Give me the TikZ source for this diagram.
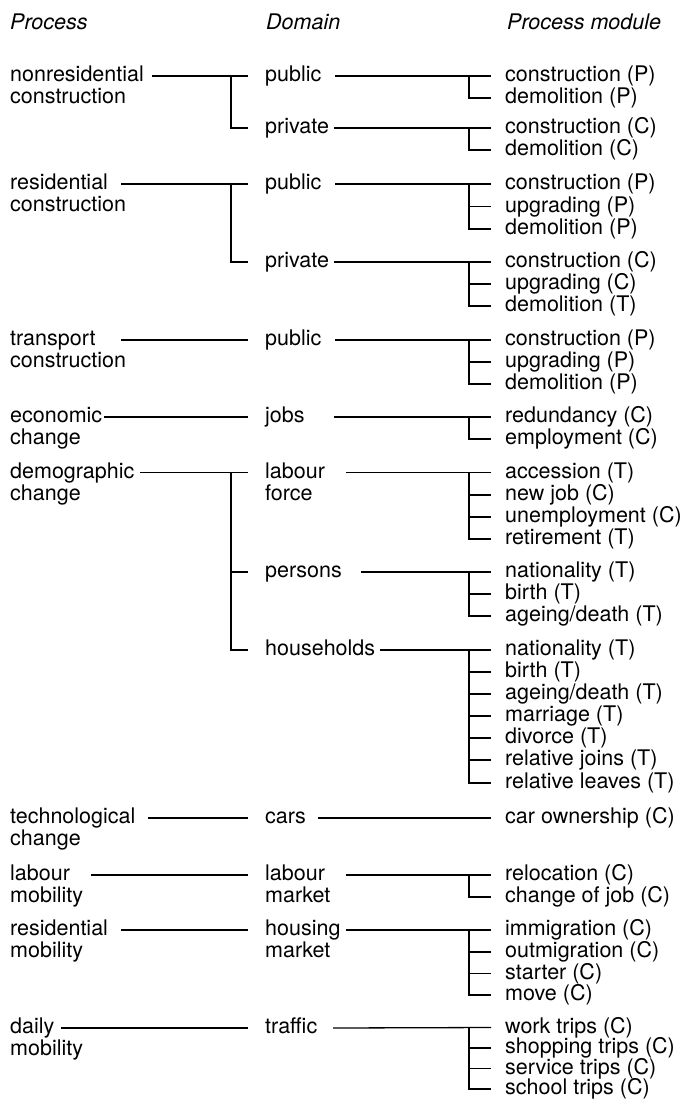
\documentclass[tikz,border=0pt]{standalone}
\usepackage{fontspec}
\setmainfont{TeX Gyre Heros}
\begin{document}
\begin{tikzpicture}[x=1bp,y=-1bp,
  lbl/.style={font=\fontsize{21.5bp}{21.7bp}\selectfont, inner sep=0pt, anchor=west, text height=15.5bp, text depth=4.5bp},
  hdr/.style={lbl, font=\fontsize{21.5bp}{21.7bp}\selectfont\itshape},
  conn/.style={line width=1.3bp}]
\useasboundingbox (0,0) rectangle (680,1106);
% headers
\node[hdr] (h1) at (10,24) {Process};
\node[hdr] (h2) at (266,24) {Domain};
\node[hdr] (h3) at (507,24) {Process module};
% processes
\node[lbl] (p1) at (10,76) {nonresidential};
\node[lbl] (p1b) at (10,98) {construction};
\node[lbl] (p2) at (10,184) {residential};
\node[lbl] (p2b) at (10,206) {construction};
\node[lbl] (p3) at (10,340) {transport};
\node[lbl] (p3b) at (10,362) {construction};
\node[lbl] (p4) at (10,417) {economic};
\node[lbl] (p4b) at (10,439) {change};
\node[lbl] (p5) at (10,472.5) {demographic};
\node[lbl] (p5b) at (10,494.5) {change};
\node[lbl] (p6) at (10,818) {technological};
\node[lbl] (p6b) at (10,840) {change};
\node[lbl] (p7) at (10,875) {labour};
\node[lbl] (p7b) at (10,897) {mobility};
\node[lbl] (p8) at (10,930) {residential};
\node[lbl] (p8b) at (10,952) {mobility};
\node[lbl] (p9) at (10,1028) {daily};
\node[lbl] (p9b) at (10,1050) {mobility};
% domains
\node[lbl] (d1) at (265,76) {public};
\node[lbl] (d2) at (265,128) {private};
\node[lbl] (d3) at (265,184) {public};
\node[lbl] (d4) at (265,262) {private};
\node[lbl] (d5) at (265,340) {public};
\node[lbl] (d6) at (265,417) {jobs};
\node[lbl] (d7) at (265,472.5) {labour};
\node[lbl] (d7b) at (265,494.5) {force};
\node[lbl] (d8) at (265,572) {persons};
\node[lbl] (d9) at (265,650) {households};
\node[lbl] (d10) at (265,818) {cars};
\node[lbl] (d11) at (265,875) {labour};
\node[lbl] (d11b) at (265,897) {market};
\node[lbl] (d12) at (265,930) {housing};
\node[lbl] (d12b) at (265,952) {market};
\node[lbl] (d13) at (265,1028) {traffic};
% modules
\node[lbl] (m1) at (505,76) {construction (P)};
\node[lbl] (m2) at (505,98) {demolition (P)};
\node[lbl] (m3) at (505,128) {construction (C)};
\node[lbl] (m4) at (505,150) {demolition (C)};
\node[lbl] (m5) at (505,184) {construction (P)};
\node[lbl] (m6) at (505,206.5) {upgrading (P)};
\node[lbl] (m7) at (505,229) {demolition (P)};
\node[lbl] (m8) at (505,262) {construction (C)};
\node[lbl] (m9) at (505,284) {upgrading (C)};
\node[lbl] (m10) at (505,306) {demolition (T)};
\node[lbl] (m11) at (505,340) {construction (P)};
\node[lbl] (m12) at (505,362) {upgrading (P)};
\node[lbl] (m13) at (505,384) {demolition (P)};
\node[lbl] (m14) at (505,417) {redundancy (C)};
\node[lbl] (m15) at (505,439) {employment (C)};
\node[lbl] (m16) at (505,472.5) {accession (T)};
\node[lbl] (m17) at (505,495) {new job (C)};
\node[lbl] (m18) at (505,517) {unemployment (C)};
\node[lbl] (m19) at (505,539) {retirement (T)};
\node[lbl] (m20) at (505,572) {nationality (T)};
\node[lbl] (m21) at (505,594) {birth (T)};
\node[lbl] (m22) at (505,616) {ageing/death (T)};
\node[lbl] (m23) at (505,650) {nationality (T)};
\node[lbl] (m24) at (505,672) {birth (T)};
\node[lbl] (m25) at (505,694) {ageing/death (T)};
\node[lbl] (m26) at (505,716) {marriage (T)};
\node[lbl] (m27) at (505,738) {divorce (T)};
\node[lbl] (m28) at (505,760) {relative joins (T)};
\node[lbl] (m29) at (505,783) {relative leaves (T)};
\node[lbl] (m30) at (505,818) {car ownership (C)};
\node[lbl] (m31) at (505,875) {relocation (C)};
\node[lbl] (m32) at (505,897) {change of job (C)};
\node[lbl] (m33) at (505,930) {immigration (C)};
\node[lbl] (m34) at (505,952) {outmigration (C)};
\node[lbl] (m35) at (505,973.5) {starter (C)};
\node[lbl] (m36) at (505,995) {move (C)};
\node[lbl] (m37) at (505,1027.5) {work trips (C)};
\node[lbl] (m38) at (505,1048) {shopping trips (C)};
\node[lbl] (m39) at (505,1068.5) {service trips (C)};
\node[lbl] (m40) at (505,1089) {school trips (C)};
% process -> domain connectors
\foreach \p/\x/\d in {1/152/1, 2/121/3, 3/121/5, 4/104/6, 5/140/7, 6/148/10, 7/91/11, 8/121/12, 9/61/13}{
  \coordinate (s\p) at (p\p.west -| \x,0);
  \draw[conn] (s\p) -- ([xshift=-17bp]d\d.west);
}
\coordinate (bp1) at (p1.west -| 231,0);
\coordinate (bp2) at (p2.west -| 231,0);
\coordinate (bp5) at (p5.west -| 231,0);
\draw[conn] (bp1) |- ([xshift=-17bp]d2.west);
\draw[conn] (bp2) |- ([xshift=-17bp]d4.west);
\draw[conn] (bp5) |- ([xshift=-17bp]d8.west);
\draw[conn] (bp5) |- ([xshift=-17bp]d9.west);
% domain -> module connectors
\foreach \d/\x/\a/\b in {1/335/1/2, 2/334/3/4, 3/335/5/7, 4/334/8/10, 5/335/11/13, 6/334/14/15, 7/346/16/19, 8/361/20/22, 9/380/23/29, 10/318/30/30, 11/346/31/32, 12/346/33/36, 13/333/37/40}{
  \coordinate (t\d) at (d\d.west -| \x,0);
  \coordinate (bm\d) at (d\d.west -| 469,0);
  \draw[conn] (t\d) -- ([xshift=-14bp]m\a.west);
  \foreach \k in {\a,...,\b}{
    \draw[conn] (bm\d) |- ([xshift=-14bp]m\k.west);
  }
}
\end{tikzpicture}
\end{document}
